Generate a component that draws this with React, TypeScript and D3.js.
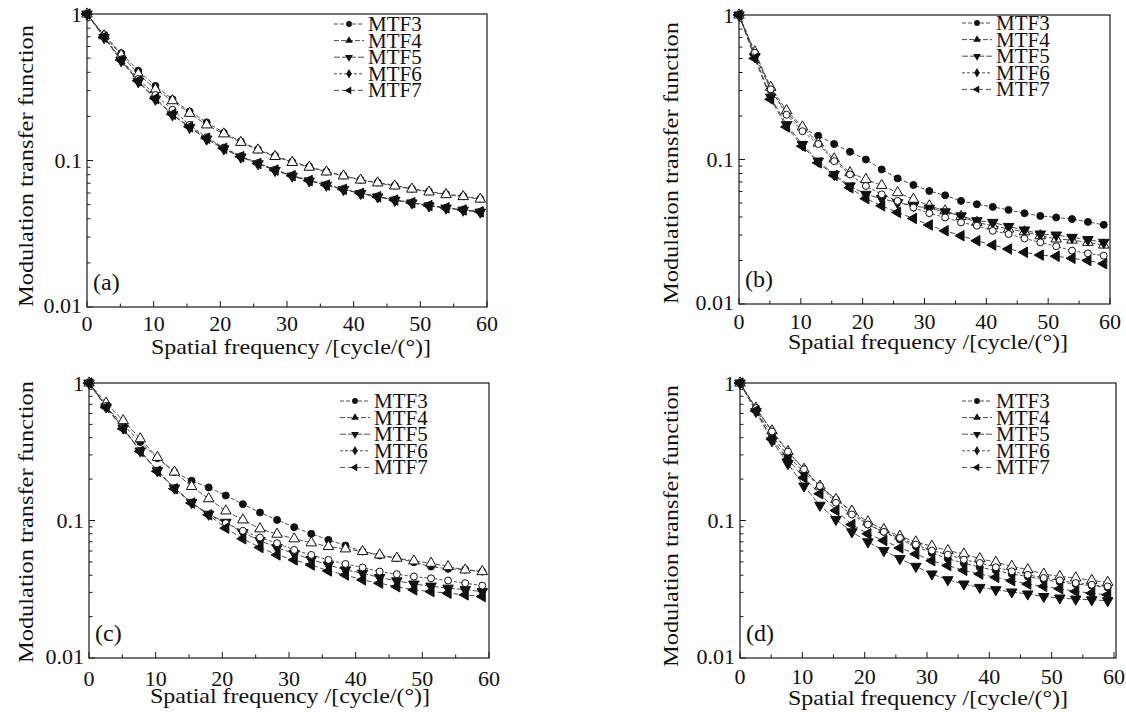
import React from "react";
import * as d3 from "d3";

// ---------- data ----------
const freq = [0, 2.56, 5.13, 7.69, 10.26, 12.82, 15.39, 17.95, 20.52, 23.08, 25.65, 28.21, 30.78, 33.34, 35.91, 38.47, 41.04, 43.6, 46.17, 48.73, 51.3, 53.86, 56.43, 58.99];
const seriesNames = ["MTF3", "MTF4", "MTF5", "MTF6", "MTF7"];
const panelLabels = ["(a)", "(b)", "(c)", "(d)"];
const xTickValues = [0, 10, 20, 30, 40, 50, 60];
const yTickValues = [1, 0.1, 0.01];
const yTickLabels = ["1", "0.1", "0.01"];
const xTitle = "Spatial frequency /[cycle/(°)]";
const yTitle = "Modulation transfer function";

const mtfA3 = [1, 0.72, 0.54, 0.41, 0.323, 0.262, 0.216, 0.182, 0.155, 0.135, 0.119, 0.1076, 0.098, 0.091, 0.084, 0.079, 0.0738, 0.0708, 0.0675, 0.0642, 0.0615, 0.0589, 0.0571, 0.0548];
const mtfA4 = [1, 0.71, 0.525, 0.39, 0.306, 0.256, 0.21, 0.175, 0.152, 0.133, 0.118, 0.1065, 0.097, 0.09, 0.0835, 0.0785, 0.0735, 0.0703, 0.067, 0.0638, 0.061, 0.0585, 0.0567, 0.0545];
const mtfA5 = [1, 0.69, 0.48, 0.345, 0.262, 0.205, 0.168, 0.14, 0.12, 0.1055, 0.095, 0.0855, 0.0782, 0.0725, 0.0678, 0.0633, 0.0595, 0.0564, 0.0535, 0.0513, 0.049, 0.0473, 0.0458, 0.0444];
const mtfA6 = [1, 0.7, 0.49, 0.36, 0.28, 0.222, 0.175, 0.144, 0.1225, 0.107, 0.0962, 0.0866, 0.079, 0.0732, 0.0685, 0.064, 0.06, 0.0569, 0.054, 0.0518, 0.0494, 0.0477, 0.0462, 0.0448];
const mtfA7 = [1, 0.695, 0.485, 0.35, 0.265, 0.207, 0.17, 0.142, 0.121, 0.1062, 0.0955, 0.086, 0.0788, 0.073, 0.068, 0.0636, 0.0597, 0.0566, 0.0537, 0.0515, 0.0492, 0.0475, 0.046, 0.0446];

const mtfB3 = [1, 0.528, 0.303, 0.21, 0.165, 0.146, 0.128, 0.113, 0.1, 0.0853, 0.074, 0.0666, 0.0605, 0.0565, 0.0517, 0.049, 0.047, 0.0448, 0.0425, 0.0407, 0.0397, 0.0387, 0.037, 0.0353];
const mtfB4 = [1, 0.556, 0.316, 0.218, 0.168, 0.13, 0.101, 0.081, 0.0728, 0.0662, 0.059, 0.0531, 0.0478, 0.0441, 0.0403, 0.0367, 0.0348, 0.033, 0.0316, 0.0297, 0.0282, 0.0277, 0.0267, 0.0256];
const mtfB5 = [1, 0.514, 0.27, 0.174, 0.127, 0.0974, 0.0788, 0.0656, 0.0574, 0.0536, 0.0503, 0.0478, 0.046, 0.0434, 0.0407, 0.0377, 0.0367, 0.0344, 0.0325, 0.0305, 0.03, 0.0289, 0.0279, 0.0267];
const mtfB6 = [1, 0.548, 0.306, 0.204, 0.157, 0.128, 0.0974, 0.0788, 0.0656, 0.0574, 0.0517, 0.0465, 0.0425, 0.0397, 0.0367, 0.0348, 0.0321, 0.0305, 0.0284, 0.0267, 0.0251, 0.0234, 0.0224, 0.0216];
const mtfB7 = [1, 0.501, 0.261, 0.168, 0.1236, 0.0948, 0.0776, 0.0638, 0.0536, 0.0478, 0.043, 0.0391, 0.0352, 0.0321, 0.0297, 0.0274, 0.0256, 0.024, 0.0228, 0.0218, 0.0214, 0.0207, 0.02, 0.019];

const mtfC3 = [1, 0.676, 0.497, 0.372, 0.284, 0.225, 0.1945, 0.174, 0.152, 0.1315, 0.1143, 0.101, 0.0894, 0.08, 0.0723, 0.0658, 0.0595, 0.0556, 0.0532, 0.0497, 0.0462, 0.0445, 0.044, 0.0425];
const mtfC4 = [1, 0.715, 0.532, 0.393, 0.288, 0.225, 0.177, 0.144, 0.1175, 0.101, 0.087, 0.0795, 0.0736, 0.0688, 0.0647, 0.0622, 0.0595, 0.0562, 0.0532, 0.0508, 0.0489, 0.0462, 0.0437, 0.0425];
const mtfC5 = [1, 0.67, 0.47, 0.32, 0.23, 0.172, 0.135, 0.111, 0.097, 0.0815, 0.0715, 0.0635, 0.0575, 0.052, 0.0475, 0.0437, 0.0414, 0.0385, 0.0364, 0.0345, 0.0333, 0.0322, 0.0314, 0.0304];
const mtfC6 = [1, 0.68, 0.47, 0.3215, 0.23, 0.172, 0.135, 0.11, 0.0957, 0.0841, 0.0752, 0.0684, 0.0611, 0.0562, 0.0517, 0.0483, 0.0455, 0.0425, 0.0407, 0.0391, 0.038, 0.0366, 0.035, 0.0336];
const mtfC7 = [1, 0.665, 0.465, 0.318, 0.228, 0.17, 0.134, 0.11, 0.088, 0.0736, 0.0636, 0.0562, 0.0517, 0.0475, 0.043, 0.0402, 0.037, 0.035, 0.033, 0.0313, 0.0304, 0.0296, 0.0288, 0.028];

const mtfD3 = [1, 0.646, 0.413, 0.295, 0.223, 0.178, 0.1424, 0.1157, 0.0935, 0.0827, 0.0727, 0.065, 0.0581, 0.0528, 0.0489, 0.0457, 0.0434, 0.0408, 0.0392, 0.0371, 0.0357, 0.0345, 0.0335, 0.0326];
const mtfD4 = [1, 0.657, 0.449, 0.317, 0.236, 0.178, 0.1424, 0.117, 0.0978, 0.086, 0.0769, 0.0699, 0.065, 0.0604, 0.0571, 0.0528, 0.0497, 0.0464, 0.0439, 0.0408, 0.0392, 0.0382, 0.0367, 0.0355];
const mtfD5 = [1, 0.621, 0.38, 0.259, 0.178, 0.129, 0.1017, 0.0827, 0.0699, 0.0604, 0.0528, 0.0464, 0.0408, 0.0371, 0.0345, 0.0326, 0.0314, 0.0302, 0.0292, 0.028, 0.0273, 0.0268, 0.0265, 0.0261];
const mtfD6 = [1, 0.657, 0.444, 0.317, 0.236, 0.178, 0.1346, 0.1106, 0.0935, 0.0827, 0.0747, 0.0668, 0.0604, 0.0565, 0.0519, 0.0491, 0.0457, 0.0427, 0.0403, 0.0382, 0.0367, 0.0351, 0.0341, 0.0332];
const mtfD7 = [1, 0.628, 0.39, 0.279, 0.205, 0.1566, 0.1183, 0.0935, 0.08, 0.0715, 0.0632, 0.0571, 0.051, 0.047, 0.0434, 0.0408, 0.0386, 0.0365, 0.0345, 0.0332, 0.0319, 0.0305, 0.0296, 0.0288];

const panelSeries = [
  [mtfA3, mtfA4, mtfA5, mtfA6, mtfA7],
  [mtfB3, mtfB4, mtfB5, mtfB6, mtfB7],
  [mtfC3, mtfC4, mtfC5, mtfC6, mtfC7],
  [mtfD3, mtfD4, mtfD5, mtfD6, mtfD7],
];

// ---------- layout / style ----------
const FONT = '"Liberation Serif", "Times New Roman", Times, serif';
const layouts = [
  { left: 87, right: 487, x60: 487, top: 14, bottom: 307, yTX: 33, yTY: 166, xTX: 291, xTY: 354, tickY: 331, legX: 334, legY: 24 },
  { left: 739, right: 1110, x60: 1110, top: 15, bottom: 304, yTX: 678, yTY: 163, xTX: 928, xTY: 349, tickY: 329, legX: 962, legY: 23 },
  { left: 89, right: 489, x60: 489, top: 383, bottom: 658, yTX: 33, yTY: 522, xTX: 290, xTY: 703, tickY: 686, legX: 340, legY: 401 },
  { left: 740, right: 1116, x60: 1114, top: 383, bottom: 658, yTX: 678, yTY: 526, xTX: 928, xTY: 705, tickY: 684, legX: 962, legY: 401 },
];

const markerDefs = [
  { type: d3.symbolCircle, rot: 0, fill: true, size: 38, legType: d3.symbolCircle, legRot: 0 },
  { type: d3.symbolTriangle, rot: 0, fill: false, size: 48, legType: d3.symbolTriangle, legRot: 0 },
  { type: d3.symbolTriangle, rot: 180, fill: true, size: 48, legType: d3.symbolTriangle, legRot: 180 },
  { type: d3.symbolCircle, rot: 0, fill: false, size: 38, legType: d3.symbolDiamond, legRot: 0 },
  { type: d3.symbolTriangle, rot: -90, fill: true, size: 48, legType: d3.symbolTriangle, legRot: -90 },
];
const dashes = ["4,2", "5,2", "6,2", "3,2", "5,3"];

function Panel({ idx }: { idx: number }) {
  const L = layouts[idx];
  const x = d3.scaleLinear().domain([0, 60]).range([L.left, L.x60]);
  const y = d3.scaleLog().domain([0.01, 1]).range([L.bottom, L.top]);
  const minor: number[] = [];
  [0.01, 0.1].forEach((dec) => {
    for (let k = 2; k <= 9; k++) minor.push(dec * k);
  });
  const xMinor = d3.range(5, 60, 10);
  const line = d3
    .line<number>()
    .x((_, i) => x(freq[i]))
    .y((d) => y(d));
  const series = panelSeries[idx];

  return (
    <g>
      <rect x={L.left} y={L.top} width={L.right - L.left} height={L.bottom - L.top} fill="none" stroke="#1a1a1a" strokeWidth={1.2} />
      {yTickValues.map((v) => (
        <line key={"ym" + v} x1={L.left} x2={L.left + 6} y1={y(v)} y2={y(v)} stroke="#1a1a1a" strokeWidth={1} />
      ))}
      {minor.map((v) => (
        <line key={"yn" + v} x1={L.left} x2={L.left + 3.5} y1={y(v)} y2={y(v)} stroke="#1a1a1a" strokeWidth={1} />
      ))}
      {xTickValues.map((v) => (
        <line key={"xm" + v} x1={x(v)} x2={x(v)} y1={L.bottom} y2={L.bottom - 6} stroke="#1a1a1a" strokeWidth={1} />
      ))}
      {xMinor.map((v) => (
        <line key={"xn" + v} x1={x(v)} x2={x(v)} y1={L.bottom} y2={L.bottom - 3.5} stroke="#1a1a1a" strokeWidth={1} />
      ))}
      {yTickValues.map((v, i) => (
        <text key={"yl" + v} x={L.left - 5} y={y(v) - (v === 0.01 ? 2 : 0)} textAnchor="end" dominantBaseline="central" fontFamily={FONT} fontSize={22} fill="#111">
          {yTickLabels[i]}
        </text>
      ))}
      {xTickValues.map((v) => (
        <text key={"xl" + v} x={x(v)} y={L.tickY} textAnchor="middle" fontFamily={FONT} fontSize={22} fill="#111">
          {String(v)}
        </text>
      ))}
      <text x={L.xTX} y={L.xTY} textAnchor="middle" fontFamily={FONT} fontSize={21} fill="#111" textLength={280} lengthAdjust="spacingAndGlyphs">
        {xTitle}
      </text>
      <text transform={`translate(${L.yTX},${L.yTY}) rotate(-90)`} textAnchor="middle" fontFamily={FONT} fontSize={22} fill="#111" textLength={282} lengthAdjust="spacingAndGlyphs">
        {yTitle}
      </text>
      <text x={L.left + 6} y={L.bottom - 17} fontFamily={FONT} fontSize={24} fill="#111">
        {panelLabels[idx]}
      </text>
      {series.map((vals, s) => (
        <g key={"s" + s}>
          <path d={line(vals) || ""} fill="none" stroke="#3a3a3a" strokeWidth={0.9} strokeDasharray={dashes[s]} />
          {vals.map((v, i) => {
            const m = markerDefs[s];
            const path = d3.symbol().type(m.type).size(m.size)() || "";
            return (
              <path
                key={i}
                d={path}
                transform={`translate(${x(freq[i])},${y(v)}) rotate(${m.rot})`}
                fill={m.fill ? "#111" : "#fff"}
                stroke="#111"
                strokeWidth={1}
              />
            );
          })}
        </g>
      ))}
      {seriesNames.map((name, s) => {
        const m = markerDefs[s];
        const ly = L.legY + s * 16.6;
        const path = d3.symbol().type(m.legType).size(26)() || "";
        return (
          <g key={"lg" + s}>
            <line x1={L.legX} x2={L.legX + 30} y1={ly} y2={ly} stroke="#3a3a3a" strokeWidth={0.9} strokeDasharray={dashes[s]} />
            <path d={path} transform={`translate(${L.legX + 15},${ly}) rotate(${m.legRot})`} fill="#111" />
            <text x={L.legX + 34} y={ly} dominantBaseline="central" fontFamily={FONT} fontSize={21} fill="#111">
              {name}
            </text>
          </g>
        );
      })}
    </g>
  );
}

export default function App() {
  return (
    <svg width={1126} height={712} style={{ position: "absolute", left: 0, top: 0, background: "#fff" }}>
      <rect x={0} y={0} width={1126} height={712} fill="#fff" />
      {[0, 1, 2, 3].map((i) => (
        <Panel key={i} idx={i} />
      ))}
    </svg>
  );
}
